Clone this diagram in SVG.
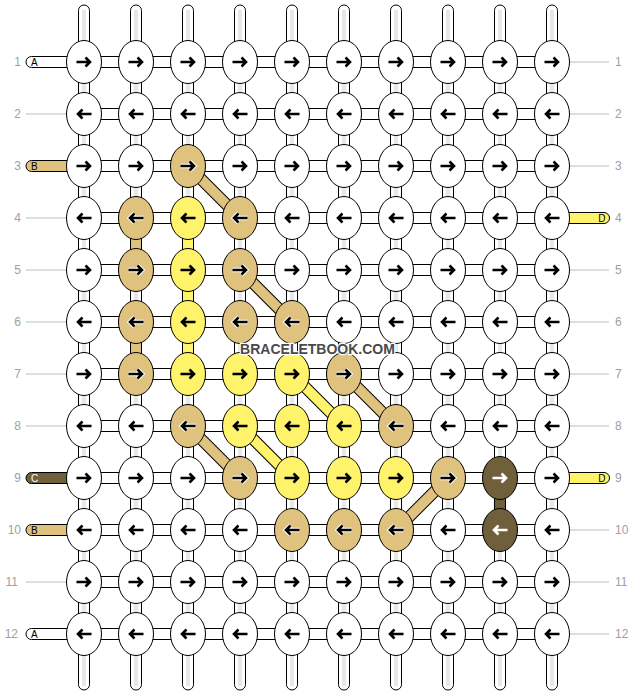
<svg xmlns="http://www.w3.org/2000/svg" xmlns:xlink="http://www.w3.org/1999/xlink" width="636" height="696" viewBox="0 0 636 696">
<style>
.k{stroke:#000;stroke-width:1}
.w{fill:#fff}
.t{fill:#e0c27f}
.y{fill:#fff36b}
.d{fill:#6f5f3b}
.a{fill:none;stroke:#000;stroke-width:2.6}
.aw{fill:none;stroke:#fff;stroke-width:2.6}
.h{fill:none;stroke:#fff;stroke-width:4.6}
.s{fill:#fff;stroke:#000;stroke-width:1}
.g{fill:none;stroke:#c4c4c4;stroke-width:0.8}
.gl{fill:none;stroke:#bdbdbd;stroke-width:1}
.db{stroke:#000;stroke-width:12}
.dt{stroke:#e0c27f;stroke-width:10}
.dy{stroke:#fff36b;stroke-width:10}
.num{font-family:"Liberation Sans",Arial,sans-serif;font-size:12px;fill:#a0a0a0}
.lab{font-family:"Liberation Sans",Arial,sans-serif;font-size:10px;fill:#000}
.wm{font-family:"Liberation Sans",Arial,sans-serif;font-size:14px;font-weight:bold;fill:#4a4a4a;stroke:#fff;stroke-width:2.4;paint-order:stroke;text-anchor:middle}
</style>
<defs>
<ellipse id="E" cx="0" cy="0" rx="17.5" ry="21.5" class="k"/>
<path id="R" d="M-7.5,0H5.5M1.5,-4.5L6,0L1.5,4.5"/>
<path id="L" d="M7.5,0H-5.5M-1.5,-4.5L-6,0L-1.5,4.5"/>
</defs>

<g id="connectors">
<!-- vertical strings -->
<g id="columns">
<rect x="78.5" y="5" width="11" height="685" rx="5.5" class="s"/>
<rect x="130.5" y="5" width="11" height="685" rx="5.5" class="s"/>
<rect x="182.5" y="5" width="11" height="685" rx="5.5" class="s"/>
<rect x="234.5" y="5" width="11" height="685" rx="5.5" class="s"/>
<rect x="286.5" y="5" width="11" height="685" rx="5.5" class="s"/>
<rect x="338.5" y="5" width="11" height="685" rx="5.5" class="s"/>
<rect x="390.5" y="5" width="11" height="685" rx="5.5" class="s"/>
<rect x="442.5" y="5" width="11" height="685" rx="5.5" class="s"/>
<rect x="494.5" y="5" width="11" height="685" rx="5.5" class="s"/>
<rect x="546.5" y="5" width="11" height="685" rx="5.5" class="s"/>
<path class="g" d="M83,10V686M85,10V686M135,10V686M137,10V686M187,10V686M189,10V686M239,10V686M241,10V686M291,10V686M293,10V686M343,10V686M345,10V686M395,10V686M397,10V686M447,10V686M449,10V686M499,10V686M501,10V686M551,10V686M553,10V686"/>
</g>
<!-- colored vertical segments -->
<rect x="130.5" y="218" width="11" height="52" class="k t"/>
<rect x="130.5" y="322" width="11" height="52" class="k t"/>
<rect x="182.5" y="218" width="11" height="156" class="k y"/>
<rect x="494.5" y="478" width="11" height="52" class="k d"/>
<!-- horizontal rows -->
<g id="rows">
<rect x="84" y="56.5" width="468" height="11" class="s"/>
<rect x="84" y="108.5" width="468" height="11" class="s"/>
<rect x="84" y="160.5" width="468" height="11" class="s"/>
<rect x="84" y="212.5" width="468" height="11" class="s"/>
<rect x="84" y="264.5" width="468" height="11" class="s"/>
<rect x="84" y="316.5" width="468" height="11" class="s"/>
<rect x="84" y="368.5" width="468" height="11" class="s"/>
<rect x="84" y="420.5" width="468" height="11" class="s"/>
<rect x="84" y="472.5" width="468" height="11" class="s"/>
<rect x="84" y="524.5" width="468" height="11" class="s"/>
<rect x="84" y="576.5" width="468" height="11" class="s"/>
<rect x="84" y="628.5" width="468" height="11" class="s"/>
</g>
<!-- diagonals -->
<g id="diagonals">
<line x1="188" y1="166" x2="240" y2="218" class="db"/><line x1="188" y1="166" x2="240" y2="218" class="dt"/>
<line x1="240" y1="270" x2="292" y2="322" class="db"/><line x1="240" y1="270" x2="292" y2="322" class="dt"/>
<line x1="344" y1="374" x2="396" y2="426" class="db"/><line x1="344" y1="374" x2="396" y2="426" class="dt"/>
<line x1="188" y1="426" x2="240" y2="478" class="db"/><line x1="188" y1="426" x2="240" y2="478" class="dt"/>
<line x1="448" y1="478" x2="396" y2="530" class="db"/><line x1="448" y1="478" x2="396" y2="530" class="dt"/>
<line x1="292" y1="374" x2="344" y2="426" class="db"/><line x1="292" y1="374" x2="344" y2="426" class="dy"/>
<line x1="240" y1="426" x2="292" y2="478" class="db"/><line x1="240" y1="426" x2="292" y2="478" class="dy"/>
</g>
<!-- side strings -->
<g id="ends">
<rect x="26" y="56.5" width="60" height="11" rx="5.5" class="s"/>
<rect x="26" y="160.5" width="60" height="11" rx="5.5" class="k t"/>
<rect x="26" y="472.5" width="60" height="11" rx="5.5" class="k d"/>
<rect x="26" y="524.5" width="60" height="11" rx="5.5" class="k t"/>
<rect x="26" y="628.5" width="60" height="11" rx="5.5" class="s"/>
<rect x="550" y="212.5" width="59.5" height="11" rx="5.5" class="k y"/>
<rect x="550" y="472.5" width="59.5" height="11" rx="5.5" class="k y"/>
<path class="gl" d="M26,114H67M26,218H67M26,270H67M26,322H67M26,374H67M26,426H67M26,582H67"/>
<path class="gl" d="M569,62H609M569,114H609M569,166H609M569,270H609M569,322H609M569,374H609M569,426H609M569,530H609M569,582H609M569,634H609"/>
</g>
</g>

<g id="labels">
<text x="31" y="65.7" class="lab">A</text>
<text x="31" y="169.7" class="lab">B</text>
<text x="31" y="481.7" class="lab" style="fill:#fff">C</text>
<text x="31" y="533.7" class="lab">B</text>
<text x="31" y="637.7" class="lab">A</text>
<text x="605.5" y="221.7" class="lab" text-anchor="end">D</text>
<text x="605.5" y="481.7" class="lab" text-anchor="end">D</text>
<g text-anchor="end">
<text x="21" y="66.3" class="num">1</text>
<text x="21" y="118.3" class="num">2</text>
<text x="21" y="170.3" class="num">3</text>
<text x="21" y="222.3" class="num">4</text>
<text x="21" y="274.3" class="num">5</text>
<text x="21" y="326.3" class="num">6</text>
<text x="21" y="378.3" class="num">7</text>
<text x="21" y="430.3" class="num">8</text>
<text x="21" y="482.3" class="num">9</text>
<text x="21" y="534.3" class="num">10</text>
<text x="18" y="586.3" class="num">11</text>
<text x="18" y="638.3" class="num">12</text>
</g>
<text x="615" y="66.3" class="num">1</text>
<text x="615" y="118.3" class="num">2</text>
<text x="615" y="170.3" class="num">3</text>
<text x="615" y="222.3" class="num">4</text>
<text x="615" y="274.3" class="num">5</text>
<text x="615" y="326.3" class="num">6</text>
<text x="615" y="378.3" class="num">7</text>
<text x="615" y="430.3" class="num">8</text>
<text x="615" y="482.3" class="num">9</text>
<text x="615" y="534.3" class="num">10</text>
<text x="615" y="586.3" class="num">11</text>
<text x="615" y="638.3" class="num">12</text>
</g>

<g id="knots">
<!-- row 1 -->
<g id="k1-1"><use href="#E" x="84" y="62" class="w"/><use href="#R" x="84" y="62" class="a"/></g>
<g id="k1-2"><use href="#E" x="136" y="62" class="w"/><use href="#R" x="136" y="62" class="a"/></g>
<g id="k1-3"><use href="#E" x="188" y="62" class="w"/><use href="#R" x="188" y="62" class="a"/></g>
<g id="k1-4"><use href="#E" x="240" y="62" class="w"/><use href="#R" x="240" y="62" class="a"/></g>
<g id="k1-5"><use href="#E" x="292" y="62" class="w"/><use href="#R" x="292" y="62" class="a"/></g>
<g id="k1-6"><use href="#E" x="344" y="62" class="w"/><use href="#R" x="344" y="62" class="a"/></g>
<g id="k1-7"><use href="#E" x="396" y="62" class="w"/><use href="#R" x="396" y="62" class="a"/></g>
<g id="k1-8"><use href="#E" x="448" y="62" class="w"/><use href="#R" x="448" y="62" class="a"/></g>
<g id="k1-9"><use href="#E" x="500" y="62" class="w"/><use href="#R" x="500" y="62" class="a"/></g>
<g id="k1-10"><use href="#E" x="552" y="62" class="w"/><use href="#R" x="552" y="62" class="a"/></g>
<!-- row 2 -->
<g id="k2-1"><use href="#E" x="84" y="114" class="w"/><use href="#L" x="84" y="114" class="a"/></g>
<g id="k2-2"><use href="#E" x="136" y="114" class="w"/><use href="#L" x="136" y="114" class="a"/></g>
<g id="k2-3"><use href="#E" x="188" y="114" class="w"/><use href="#L" x="188" y="114" class="a"/></g>
<g id="k2-4"><use href="#E" x="240" y="114" class="w"/><use href="#L" x="240" y="114" class="a"/></g>
<g id="k2-5"><use href="#E" x="292" y="114" class="w"/><use href="#L" x="292" y="114" class="a"/></g>
<g id="k2-6"><use href="#E" x="344" y="114" class="w"/><use href="#L" x="344" y="114" class="a"/></g>
<g id="k2-7"><use href="#E" x="396" y="114" class="w"/><use href="#L" x="396" y="114" class="a"/></g>
<g id="k2-8"><use href="#E" x="448" y="114" class="w"/><use href="#L" x="448" y="114" class="a"/></g>
<g id="k2-9"><use href="#E" x="500" y="114" class="w"/><use href="#L" x="500" y="114" class="a"/></g>
<g id="k2-10"><use href="#E" x="552" y="114" class="w"/><use href="#L" x="552" y="114" class="a"/></g>
<!-- row 3 -->
<g id="k3-1"><use href="#E" x="84" y="166" class="w"/><use href="#R" x="84" y="166" class="a"/></g>
<g id="k3-2"><use href="#E" x="136" y="166" class="w"/><use href="#R" x="136" y="166" class="a"/></g>
<g id="k3-3"><use href="#E" x="188" y="166" class="t"/><use href="#R" x="188" y="166" class="h"/><use href="#R" x="188" y="166" class="a"/></g>
<g id="k3-4"><use href="#E" x="240" y="166" class="w"/><use href="#R" x="240" y="166" class="a"/></g>
<g id="k3-5"><use href="#E" x="292" y="166" class="w"/><use href="#R" x="292" y="166" class="a"/></g>
<g id="k3-6"><use href="#E" x="344" y="166" class="w"/><use href="#R" x="344" y="166" class="a"/></g>
<g id="k3-7"><use href="#E" x="396" y="166" class="w"/><use href="#R" x="396" y="166" class="a"/></g>
<g id="k3-8"><use href="#E" x="448" y="166" class="w"/><use href="#R" x="448" y="166" class="a"/></g>
<g id="k3-9"><use href="#E" x="500" y="166" class="w"/><use href="#R" x="500" y="166" class="a"/></g>
<g id="k3-10"><use href="#E" x="552" y="166" class="w"/><use href="#R" x="552" y="166" class="a"/></g>
<!-- row 4 -->
<g id="k4-1"><use href="#E" x="84" y="218" class="w"/><use href="#L" x="84" y="218" class="a"/></g>
<g id="k4-2"><use href="#E" x="136" y="218" class="t"/><use href="#L" x="136" y="218" class="h"/><use href="#L" x="136" y="218" class="a"/></g>
<g id="k4-3"><use href="#E" x="188" y="218" class="y"/><use href="#L" x="188" y="218" class="a"/></g>
<g id="k4-4"><use href="#E" x="240" y="218" class="t"/><use href="#L" x="240" y="218" class="h"/><use href="#L" x="240" y="218" class="a"/></g>
<g id="k4-5"><use href="#E" x="292" y="218" class="w"/><use href="#L" x="292" y="218" class="a"/></g>
<g id="k4-6"><use href="#E" x="344" y="218" class="w"/><use href="#L" x="344" y="218" class="a"/></g>
<g id="k4-7"><use href="#E" x="396" y="218" class="w"/><use href="#L" x="396" y="218" class="a"/></g>
<g id="k4-8"><use href="#E" x="448" y="218" class="w"/><use href="#L" x="448" y="218" class="a"/></g>
<g id="k4-9"><use href="#E" x="500" y="218" class="w"/><use href="#L" x="500" y="218" class="a"/></g>
<g id="k4-10"><use href="#E" x="552" y="218" class="w"/><use href="#L" x="552" y="218" class="a"/></g>
<!-- row 5 -->
<g id="k5-1"><use href="#E" x="84" y="270" class="w"/><use href="#R" x="84" y="270" class="a"/></g>
<g id="k5-2"><use href="#E" x="136" y="270" class="t"/><use href="#R" x="136" y="270" class="h"/><use href="#R" x="136" y="270" class="a"/></g>
<g id="k5-3"><use href="#E" x="188" y="270" class="y"/><use href="#R" x="188" y="270" class="a"/></g>
<g id="k5-4"><use href="#E" x="240" y="270" class="t"/><use href="#R" x="240" y="270" class="h"/><use href="#R" x="240" y="270" class="a"/></g>
<g id="k5-5"><use href="#E" x="292" y="270" class="w"/><use href="#R" x="292" y="270" class="a"/></g>
<g id="k5-6"><use href="#E" x="344" y="270" class="w"/><use href="#R" x="344" y="270" class="a"/></g>
<g id="k5-7"><use href="#E" x="396" y="270" class="w"/><use href="#R" x="396" y="270" class="a"/></g>
<g id="k5-8"><use href="#E" x="448" y="270" class="w"/><use href="#R" x="448" y="270" class="a"/></g>
<g id="k5-9"><use href="#E" x="500" y="270" class="w"/><use href="#R" x="500" y="270" class="a"/></g>
<g id="k5-10"><use href="#E" x="552" y="270" class="w"/><use href="#R" x="552" y="270" class="a"/></g>
<!-- row 6 -->
<g id="k6-1"><use href="#E" x="84" y="322" class="w"/><use href="#L" x="84" y="322" class="a"/></g>
<g id="k6-2"><use href="#E" x="136" y="322" class="t"/><use href="#L" x="136" y="322" class="h"/><use href="#L" x="136" y="322" class="a"/></g>
<g id="k6-3"><use href="#E" x="188" y="322" class="y"/><use href="#L" x="188" y="322" class="a"/></g>
<g id="k6-4"><use href="#E" x="240" y="322" class="t"/><use href="#L" x="240" y="322" class="h"/><use href="#L" x="240" y="322" class="a"/></g>
<g id="k6-5"><use href="#E" x="292" y="322" class="t"/><use href="#L" x="292" y="322" class="h"/><use href="#L" x="292" y="322" class="a"/></g>
<g id="k6-6"><use href="#E" x="344" y="322" class="w"/><use href="#L" x="344" y="322" class="a"/></g>
<g id="k6-7"><use href="#E" x="396" y="322" class="w"/><use href="#L" x="396" y="322" class="a"/></g>
<g id="k6-8"><use href="#E" x="448" y="322" class="w"/><use href="#L" x="448" y="322" class="a"/></g>
<g id="k6-9"><use href="#E" x="500" y="322" class="w"/><use href="#L" x="500" y="322" class="a"/></g>
<g id="k6-10"><use href="#E" x="552" y="322" class="w"/><use href="#L" x="552" y="322" class="a"/></g>
<!-- row 7 -->
<g id="k7-1"><use href="#E" x="84" y="374" class="w"/><use href="#R" x="84" y="374" class="a"/></g>
<g id="k7-2"><use href="#E" x="136" y="374" class="t"/><use href="#R" x="136" y="374" class="h"/><use href="#R" x="136" y="374" class="a"/></g>
<g id="k7-3"><use href="#E" x="188" y="374" class="y"/><use href="#R" x="188" y="374" class="a"/></g>
<g id="k7-4"><use href="#E" x="240" y="374" class="y"/><use href="#R" x="240" y="374" class="a"/></g>
<g id="k7-5"><use href="#E" x="292" y="374" class="y"/><use href="#R" x="292" y="374" class="a"/></g>
<g id="k7-6"><use href="#E" x="344" y="374" class="t"/><use href="#R" x="344" y="374" class="h"/><use href="#R" x="344" y="374" class="a"/></g>
<g id="k7-7"><use href="#E" x="396" y="374" class="w"/><use href="#R" x="396" y="374" class="a"/></g>
<g id="k7-8"><use href="#E" x="448" y="374" class="w"/><use href="#R" x="448" y="374" class="a"/></g>
<g id="k7-9"><use href="#E" x="500" y="374" class="w"/><use href="#R" x="500" y="374" class="a"/></g>
<g id="k7-10"><use href="#E" x="552" y="374" class="w"/><use href="#R" x="552" y="374" class="a"/></g>
<!-- row 8 -->
<g id="k8-1"><use href="#E" x="84" y="426" class="w"/><use href="#L" x="84" y="426" class="a"/></g>
<g id="k8-2"><use href="#E" x="136" y="426" class="w"/><use href="#L" x="136" y="426" class="a"/></g>
<g id="k8-3"><use href="#E" x="188" y="426" class="t"/><use href="#L" x="188" y="426" class="h"/><use href="#L" x="188" y="426" class="a"/></g>
<g id="k8-4"><use href="#E" x="240" y="426" class="y"/><use href="#L" x="240" y="426" class="a"/></g>
<g id="k8-5"><use href="#E" x="292" y="426" class="y"/><use href="#L" x="292" y="426" class="a"/></g>
<g id="k8-6"><use href="#E" x="344" y="426" class="y"/><use href="#L" x="344" y="426" class="a"/></g>
<g id="k8-7"><use href="#E" x="396" y="426" class="t"/><use href="#L" x="396" y="426" class="h"/><use href="#L" x="396" y="426" class="a"/></g>
<g id="k8-8"><use href="#E" x="448" y="426" class="w"/><use href="#L" x="448" y="426" class="a"/></g>
<g id="k8-9"><use href="#E" x="500" y="426" class="w"/><use href="#L" x="500" y="426" class="a"/></g>
<g id="k8-10"><use href="#E" x="552" y="426" class="w"/><use href="#L" x="552" y="426" class="a"/></g>
<!-- row 9 -->
<g id="k9-1"><use href="#E" x="84" y="478" class="w"/><use href="#R" x="84" y="478" class="a"/></g>
<g id="k9-2"><use href="#E" x="136" y="478" class="w"/><use href="#R" x="136" y="478" class="a"/></g>
<g id="k9-3"><use href="#E" x="188" y="478" class="w"/><use href="#R" x="188" y="478" class="a"/></g>
<g id="k9-4"><use href="#E" x="240" y="478" class="t"/><use href="#R" x="240" y="478" class="h"/><use href="#R" x="240" y="478" class="a"/></g>
<g id="k9-5"><use href="#E" x="292" y="478" class="y"/><use href="#R" x="292" y="478" class="a"/></g>
<g id="k9-6"><use href="#E" x="344" y="478" class="y"/><use href="#R" x="344" y="478" class="a"/></g>
<g id="k9-7"><use href="#E" x="396" y="478" class="y"/><use href="#R" x="396" y="478" class="a"/></g>
<g id="k9-8"><use href="#E" x="448" y="478" class="t"/><use href="#R" x="448" y="478" class="h"/><use href="#R" x="448" y="478" class="a"/></g>
<g id="k9-9"><use href="#E" x="500" y="478" class="d"/><use href="#R" x="500" y="478" class="aw"/></g>
<g id="k9-10"><use href="#E" x="552" y="478" class="w"/><use href="#R" x="552" y="478" class="a"/></g>
<!-- row 10 -->
<g id="k10-1"><use href="#E" x="84" y="530" class="w"/><use href="#L" x="84" y="530" class="a"/></g>
<g id="k10-2"><use href="#E" x="136" y="530" class="w"/><use href="#L" x="136" y="530" class="a"/></g>
<g id="k10-3"><use href="#E" x="188" y="530" class="w"/><use href="#L" x="188" y="530" class="a"/></g>
<g id="k10-4"><use href="#E" x="240" y="530" class="w"/><use href="#L" x="240" y="530" class="a"/></g>
<g id="k10-5"><use href="#E" x="292" y="530" class="t"/><use href="#L" x="292" y="530" class="h"/><use href="#L" x="292" y="530" class="a"/></g>
<g id="k10-6"><use href="#E" x="344" y="530" class="t"/><use href="#L" x="344" y="530" class="h"/><use href="#L" x="344" y="530" class="a"/></g>
<g id="k10-7"><use href="#E" x="396" y="530" class="t"/><use href="#L" x="396" y="530" class="h"/><use href="#L" x="396" y="530" class="a"/></g>
<g id="k10-8"><use href="#E" x="448" y="530" class="w"/><use href="#L" x="448" y="530" class="a"/></g>
<g id="k10-9"><use href="#E" x="500" y="530" class="d"/><use href="#L" x="500" y="530" class="aw"/></g>
<g id="k10-10"><use href="#E" x="552" y="530" class="w"/><use href="#L" x="552" y="530" class="a"/></g>
<!-- row 11 -->
<g id="k11-1"><use href="#E" x="84" y="582" class="w"/><use href="#R" x="84" y="582" class="a"/></g>
<g id="k11-2"><use href="#E" x="136" y="582" class="w"/><use href="#R" x="136" y="582" class="a"/></g>
<g id="k11-3"><use href="#E" x="188" y="582" class="w"/><use href="#R" x="188" y="582" class="a"/></g>
<g id="k11-4"><use href="#E" x="240" y="582" class="w"/><use href="#R" x="240" y="582" class="a"/></g>
<g id="k11-5"><use href="#E" x="292" y="582" class="w"/><use href="#R" x="292" y="582" class="a"/></g>
<g id="k11-6"><use href="#E" x="344" y="582" class="w"/><use href="#R" x="344" y="582" class="a"/></g>
<g id="k11-7"><use href="#E" x="396" y="582" class="w"/><use href="#R" x="396" y="582" class="a"/></g>
<g id="k11-8"><use href="#E" x="448" y="582" class="w"/><use href="#R" x="448" y="582" class="a"/></g>
<g id="k11-9"><use href="#E" x="500" y="582" class="w"/><use href="#R" x="500" y="582" class="a"/></g>
<g id="k11-10"><use href="#E" x="552" y="582" class="w"/><use href="#R" x="552" y="582" class="a"/></g>
<!-- row 12 -->
<g id="k12-1"><use href="#E" x="84" y="634" class="w"/><use href="#L" x="84" y="634" class="a"/></g>
<g id="k12-2"><use href="#E" x="136" y="634" class="w"/><use href="#L" x="136" y="634" class="a"/></g>
<g id="k12-3"><use href="#E" x="188" y="634" class="w"/><use href="#L" x="188" y="634" class="a"/></g>
<g id="k12-4"><use href="#E" x="240" y="634" class="w"/><use href="#L" x="240" y="634" class="a"/></g>
<g id="k12-5"><use href="#E" x="292" y="634" class="w"/><use href="#L" x="292" y="634" class="a"/></g>
<g id="k12-6"><use href="#E" x="344" y="634" class="w"/><use href="#L" x="344" y="634" class="a"/></g>
<g id="k12-7"><use href="#E" x="396" y="634" class="w"/><use href="#L" x="396" y="634" class="a"/></g>
<g id="k12-8"><use href="#E" x="448" y="634" class="w"/><use href="#L" x="448" y="634" class="a"/></g>
<g id="k12-9"><use href="#E" x="500" y="634" class="w"/><use href="#L" x="500" y="634" class="a"/></g>
<g id="k12-10"><use href="#E" x="552" y="634" class="w"/><use href="#L" x="552" y="634" class="a"/></g>
</g>

<text x="317.5" y="353.5" class="wm">BRACELETBOOK.COM</text>
</svg>
